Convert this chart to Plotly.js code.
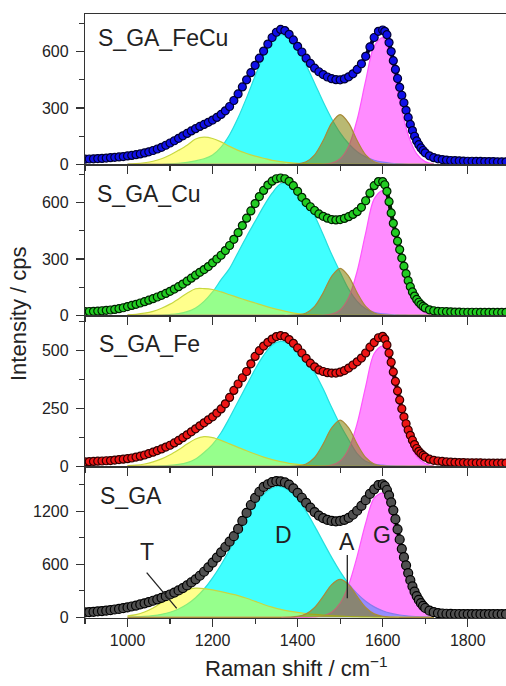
<!DOCTYPE html>
<html>
<head>
<meta charset="utf-8">
<script src="https://cdn.plot.ly/plotly-3.0.1.min.js"></script>
<style>html,body{margin:0;padding:0;background:#fff;}#chart{width:506px;height:686px;}</style>
</head>
<body>
<div id="chart"></div>
<script>
// ---------- DATA ----------
const sampleNames = ["S_GA_FeCu", "S_GA_Cu", "S_GA_Fe", "S_GA"];
const peakLabels = ["T", "D", "A", "G"];

// Raman shift grid of the measured spectra:
// every 10 cm-1 from 900 to 1600, every 5 cm-1 on the steep G flank up to 1700, every 10 cm-1 to 1890
const specX = [];
for (let x = 900; x <= 1600; x += 10) specX.push(x);
for (let x = 1605; x <= 1700; x += 5) specX.push(x);
for (let x = 1710; x <= 1890; x += 10) specX.push(x);
// Raman shift grid of the fitted peaks (every 20 cm-1, 1000..1720)
const fitX = [];
for (let x = 1000; x <= 1720; x += 20) fitX.push(x);

// measured intensities (cps)
const specFeCu = [28,29,30,31,32,34,36,38,40,42, 45,48,52,56,61,67,74,82,91,102,
  114,126,139,152,165,178,190,202,213,224, 236,250,266,285,308,340,375,412,450,488,
  527,565,603,640,675,703,718,712,692,662, 628,598,565,537,512,493,478,465,456,451,
  450,455,466,482,505,535,575,625,675,708,
  715,708,690,648,600,552,505,457,410,368, 328,288,250,213,180,150,125,105,88,74, 62,
  46,36,30,26,23,21,20,19,18, 17,17,16,16,15,15,15,14,14,14];
const specCu = [20,21,22,23,25,27,29,32,36,41, 47,53,59,66,73,81,89,98,107,117,
  128,140,153,167,182,198,214,229,244,260, 280,300,320,345,372,405,440,478,517,556,
  595,632,665,693,714,727,731,727,713,690, 660,628,600,578,558,540,527,517,510,508,
  510,516,525,537,552,575,610,650,690,712,
  712,695,660,605,545,490,440,395,350,305, 262,222,185,153,125,103,85,70,58,48, 40,
  30,25,22,21,20,19,18,18,17, 17,17,17,16,16,16,16,16,16,16];
const specFe = [19,20,21,22,23,24,25,27,29,31, 33,36,40,44,49,55,61,68,75,83,
  91,101,112,124,136,149,162,175,188,201, 214,230,248,270,298,328,356,383,410,443,
  475,500,520,536,550,561,565,561,548,532, 512,490,467,446,430,417,410,405,403,403,
  407,414,425,438,452,468,490,515,535,556,
  562,550,525,490,450,408,367,326,287,249, 214,184,157,134,113,94,77,65,55,47, 40,
  31,26,23,21,19,18,17,16,16, 15,15,15,15,14,14,14,14,14,14];
const specGA = [55,58,62,66,70,75,81,88,95,103, 112,122,133,145,158,172,187,203,220,239,
  258,280,304,330,360,394,430,470,515,565, 619,675,735,795,855,918,1000,1090,1181,1270,
  1350,1420,1475,1505,1528,1540,1538,1525,1500,1458, 1408,1352,1295,1240,1190,1150,1122,1102,1090,1086,
  1090,1102,1125,1160,1205,1260,1325,1395,1448,1495,
  1505,1485,1440,1380,1300,1210,1110,995,880,775, 680,588,500,420,350,290,240,197,160,130, 105,
  75,58,48,43,40,38,37,37,36, 36,36,35,35,35,35,35,35,35,35];

// fitted peak components (cps) on fitX
const tFeCu = [2,4,9,17,30, 50,75,102,135,145, 138,120,96,75,58, 44,33,22,15,10, 6,4,3,2,1, 1,0,0,0,0, 0,0,0,0,0, 0,0];
const dFeCu = [0,0,0,0,1, 3,6,11,19,30, 50,92,158,248,355, 470,580,660,690,668, 610,527,432,333,243, 168,110,68,40,22, 12,6,3,1,1, 0,0];
const aFeCu = [0,0,0,0,0, 0,0,0,0,0, 0,0,0,0,0, 0,0,0,0,0, 3,14,51,127,220, 265,220,127,51,14, 3,0,0,0,0, 0,0];
const gFeCu = [0,0,0,0,0, 0,0,0,0,0, 0,0,0,0,0, 0,0,0,0,0, 0,0,0,1,7, 30,97,239,445,629, 674,548,337,157,56, 15,3];

const tCu = [3,6,12,22,38, 60,88,118,142,143, 138,125,110,95,80, 66,52,39,28,18, 10,5,3,1,0, 0,0,0,0,0, 0,0,0,0,0, 0,0];
const dCu = [0,0,1,1,2, 5,10,20,40,75, 125,190,250,335,420, 500,580,650,700,700, 665,610,530,430,325, 230,140,75,35,16, 8,4,2,1,0, 0,0];
const aCu = [0,0,0,0,0, 0,0,0,0,0, 0,0,0,0,0, 0,0,0,0,0, 3,13,48,120,208, 250,208,120,48,13, 3,0,0,0,0, 0,0];
const gCu = [0,0,0,0,0, 0,0,0,0,0, 0,0,0,0,0, 0,0,0,0,0, 0,0,0,1,7, 29,95,235,438,620, 664,530,332,155,55, 15,3];

const tFe = [3,5,10,19,32, 50,72,96,118,128, 124,112,97,82,67, 53,40,29,20,13, 8,4,2,1,0, 0,0,0,0,0, 0,0,0,0,0, 0,0];
const dFe = [0,0,0,1,2, 4,8,16,32,60, 95,145,210,280,350, 420,480,525,540,532, 505,465,405,335,255, 180,115,55,22,10, 5,2,1,0,0, 0,0];
const aFe = [0,0,0,0,0, 0,0,0,0,0, 0,0,0,0,0, 0,0,0,0,0, 2,10,38,96,166, 200,166,96,38,10, 2,0,0,0,0, 0,0];
const gFe = [0,0,0,0,0, 0,0,0,0,0, 0,0,0,0,0, 0,0,0,0,0, 0,0,0,1,5, 23,75,185,345,488, 520,420,255,120,43, 12,2];

const tGA = [15,30,60,105,165, 230,280,315,330,325, 310,290,268,245,215, 180,145,115,90,70, 55,42,32,24,18, 13,9,6,4,3, 2,1,1,0,0, 0,0];
const dGA = [3,5,10,19,34, 57,94,147,221,320, 446,595,764,943,1117, 1272,1392,1463,1478,1434, 1337,1198,1031,853,678, 517,379,267,181,118, 74,44,26,14,8, 4,2];
const aGA = [0,0,0,0,0, 0,0,0,0,0, 0,0,0,0,0, 0,0,0,0,2, 10,39,111,236,370, 430,370,236,111,39, 10,2,0,0,0, 0,0];
const gGA = [0,0,0,0,0, 0,0,0,0,0, 0,0,0,0,0, 0,0,0,0,0, 0,0,4,17,57, 160,367,689,1064,1349, 1402,1150,760,400,170, 60,18];

// axis settings per panel
const yRanges = [[-3, 800], [-3, 800], [-3, 650], [-8, 1700]];
const yDticks = [300, 300, 250, 600];
const xRange = [900, 1890];

// ---------- STYLE ----------
const spectra = [specFeCu, specCu, specFe, specGA];
const comps = [
  {T: tFeCu, D: dFeCu, A: aFeCu, G: gFeCu},
  {T: tCu, D: dCu, A: aCu, G: gCu},
  {T: tFe, D: dFe, A: aFe, G: gFe},
  {T: tGA, D: dGA, A: aGA, G: gGA}
];
const markerFill = ["#1010e8", "#22cc22", "#ee1515", "#505050"];
const markerEdge = ["#000030", "#002000", "#300000", "#000000"];
const markerSize = [8, 8, 8, 9];
const compStyle = {
  D: {fill: "rgba(0,255,255,0.75)", line: "#25dede"},
  G: {fill: "rgba(255,0,255,0.45)", line: "#ff55ff"},
  T: {fill: "rgba(255,255,0,0.45)", line: "#c8d840"},
  A: {fill: "rgba(128,128,0,0.55)", line: "#a88a3a"}
};
const drawOrder = ["D", "G", "T", "A"];

const FONT = "Arial, 'Liberation Sans', sans-serif";
const INK = "#222";
const AX = "#333";

const L = 85, T0 = 14, W = 421, H = 604;
const pxX = x => (x - L) / W;
const pxY = y => 1 - (y - T0) / H;

const traces = [];
const layout = {
  width: 506, height: 686,
  margin: {l: L, r: 0, t: T0, b: 686 - T0 - H, pad: 0},
  paper_bgcolor: "#fff", plot_bgcolor: "rgba(0,0,0,0)",
  showlegend: false,
  font: {family: FONT, color: INK, size: 16},
  annotations: [], shapes: []
};

for (let i = 0; i < 4; i++) {
  const sfx = i === 0 ? "" : String(i + 1);
  const xa = "x" + sfx, ya = "y" + sfx;
  drawOrder.forEach(k => {
    traces.push({
      type: "scatter", mode: "lines", x: fitX, y: comps[i][k],
      xaxis: xa, yaxis: ya, fill: "tozeroy", fillcolor: compStyle[k].fill,
      line: {color: compStyle[k].line, width: 1.2, shape: "spline", smoothing: 0.9},
      hoverinfo: "skip"
    });
  });
  traces.push({
    type: "scatter", mode: "lines+markers", x: specX, y: spectra[i],
    xaxis: xa, yaxis: ya,
    line: {color: markerEdge[i], width: 4, shape: "spline", smoothing: 0.6},
    marker: {symbol: "circle", size: markerSize[i], color: markerFill[i],
             line: {color: markerEdge[i], width: 1.2}},
    cliponaxis: true, hoverinfo: "skip"
  });
  const top = 1 - i * 0.25, bot = 1 - (i + 1) * 0.25;
  layout["xaxis" + sfx] = {
    range: xRange, anchor: ya, domain: [0, 1],
    showline: true, linecolor: AX, linewidth: 1.2, mirror: true,
    ticks: "outside", ticklen: 8, tickwidth: 1.2, tickcolor: AX,
    tick0: 1000, dtick: 200,
    minor: {ticks: "outside", ticklen: 4.5, tickwidth: 1.2, tickcolor: AX, dtick: 100, showgrid: false},
    showticklabels: i === 3, tickfont: {family: FONT, size: 16, color: INK},
    showgrid: false, zeroline: false, fixedrange: true
  };
  layout["yaxis" + sfx] = {
    range: yRanges[i], anchor: xa, domain: [bot, top],
    showline: true, linecolor: AX, linewidth: 1.2, mirror: true,
    ticks: "outside", ticklen: 8, tickwidth: 1.2, tickcolor: AX,
    tick0: 0, dtick: yDticks[i],
    minor: {ticks: "outside", ticklen: 4.5, tickwidth: 1.2, tickcolor: AX, dtick: yDticks[i] / 2, showgrid: false},
    tickfont: {family: FONT, size: 16, color: INK}, ticklabelstandoff: 4,
    showgrid: false, zeroline: false, fixedrange: true
  };
}

// panel labels
const labelPos = [[96, 38], [95, 194], [97, 344], [98, 496]];
sampleNames.forEach((n, i) => {
  layout.annotations.push({text: n, xref: "paper", yref: "paper",
    x: pxX(labelPos[i][0]), y: pxY(labelPos[i][1]), xanchor: "left", yanchor: "middle",
    showarrow: false, font: {family: FONT, size: 23, color: INK}});
});
// peak letters in the bottom panel
const letterPos = {T: [147, 552], D: [283, 535], A: [347, 542], G: [382, 535]};
peakLabels.forEach(k => {
  layout.annotations.push({text: k, xref: "paper", yref: "paper",
    x: pxX(letterPos[k][0]), y: pxY(letterPos[k][1]), xanchor: "center", yanchor: "middle",
    showarrow: false, font: {family: FONT, size: 23, color: INK}});
});
// axis titles
layout.annotations.push({text: "Intensity / cps", xref: "paper", yref: "paper",
  x: pxX(18), y: pxY(314), xanchor: "center", yanchor: "middle", textangle: -90,
  showarrow: false, font: {family: FONT, size: 22, color: INK}});
layout.annotations.push({text: "Raman shift / cm<sup>\u22121</sup>", xref: "paper", yref: "paper",
  x: pxX(296), y: pxY(683), xanchor: "center", yanchor: "bottom",
  showarrow: false, font: {family: FONT, size: 22, color: INK}});
// pointer lines for T and A
layout.shapes.push({type: "line", xref: "paper", yref: "paper",
  x0: pxX(146.7), y0: pxY(572.7), x1: pxX(176.7), y1: pxY(608.3), line: {color: INK, width: 1.3}});
layout.shapes.push({type: "line", xref: "paper", yref: "paper",
  x0: pxX(347.3), y0: pxY(555), x1: pxX(347.3), y1: pxY(598.3), line: {color: INK, width: 1.3}});

Plotly.newPlot("chart", traces, layout, {staticPlot: true, displayModeBar: false});
</script>
</body>
</html>
